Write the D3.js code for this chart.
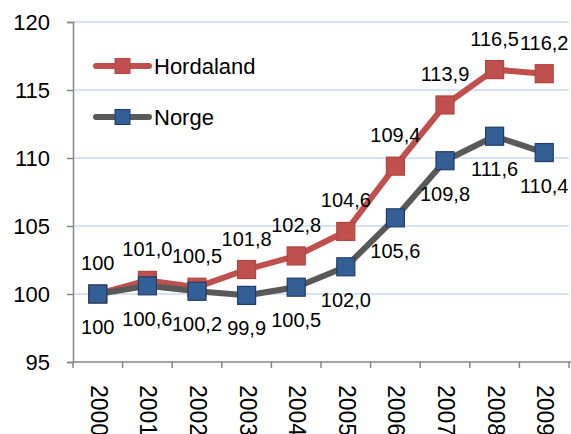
<!DOCTYPE html>
<html>
<head>
<meta charset="utf-8">
<script src="https://cdn.jsdelivr.net/npm/d3@7"></script>
<style>
  html, body { margin: 0; padding: 0; background: #fff; }
  svg { display: block; font-family: "Liberation Sans", Arial, sans-serif; }
</style>
</head>
<body>
<script>
  var years = ['2000', '2001', '2002', '2003', '2004', '2005', '2006', '2007', '2008', '2009'];
  var hordaland = [100, 101.0, 100.5, 101.8, 102.8, 104.6, 109.4, 113.9, 116.5, 116.2];
  var norge = [100, 100.6, 100.2, 99.9, 100.5, 102.0, 105.6, 109.8, 111.6, 110.4];
  var yTicks = [95, 100, 105, 110, 115, 120];

  var W = 571, H = 434;
  var margin = {top: 22, right: 2, bottom: 72, left: 73};

  var svg = d3.select('body').append('svg')
    .attr('width', W)
    .attr('height', H);

  var xScale = d3.scaleBand().domain(years).range([margin.left, W - margin.right]);
  var yScale = d3.scaleLinear().domain([95, 120]).range([H - margin.bottom, margin.top]);

  // format like "101,0" and plain "100" for the first value
  function fmt(v, i) {
    if (i === 0) return String(v);
    return v.toFixed(1).replace('.', ',');
  }

  // gridlines
  svg.append('g')
    .selectAll('line')
    .data(yTicks.slice(1))
    .enter().append('line')
    .attr('x1', margin.left)
    .attr('x2', W - margin.right)
    .attr('y1', d => yScale(d))
    .attr('y2', d => yScale(d))
    .attr('stroke', '#c6d9f1')
    .attr('stroke-width', 1.5);

  // y axis
  var yAxis = svg.append('g')
    .attr('transform', 'translate(' + margin.left + ',0)')
    .call(d3.axisLeft(yScale).tickValues(yTicks).tickSize(6).tickPadding(17));
  yAxis.select('.domain').attr('stroke', '#868686').attr('stroke-width', 1.5);
  yAxis.selectAll('.tick line').attr('stroke', '#868686').attr('stroke-width', 1.5);
  yAxis.selectAll('text').attr('font-size', 22).attr('fill', '#000')
    .style('font-family', '"Liberation Sans", Arial, sans-serif');

  // x axis
  var xAxisG = svg.append('g')
    .attr('transform', 'translate(0,' + yScale(95) + ')');
  xAxisG.append('line')
    .attr('x1', margin.left).attr('x2', W)
    .attr('stroke', '#868686').attr('stroke-width', 1.5);
  xAxisG.selectAll('.xt')
    .data(years.concat(['end']))
    .enter().append('line')
    .attr('class', 'xt')
    .attr('x1', (d, i) => margin.left + i * xScale.step())
    .attr('x2', (d, i) => margin.left + i * xScale.step())
    .attr('y1', 0).attr('y2', 6)
    .attr('stroke', '#868686').attr('stroke-width', 1.5);
  xAxisG.selectAll('.xl')
    .data(years)
    .enter().append('text')
    .attr('class', 'xl')
    .attr('transform', d => 'translate(' + (xScale(d) + xScale.bandwidth() / 2 + 1) + ',23) rotate(90)')
    .attr('dominant-baseline', 'central')
    .attr('font-size', 23)
    .text(d => d);

  var cx = (d, i) => xScale(years[i]) + xScale.bandwidth() / 2;

  function drawSeries(values, lineColor, fill, stroke) {
    var line = d3.line()
      .x((d, i) => cx(d, i))
      .y(d => yScale(d));
    svg.append('path')
      .datum(values)
      .attr('fill', 'none')
      .attr('stroke', lineColor)
      .attr('stroke-width', 6)
      .attr('stroke-linejoin', 'round')
      .attr('d', line);
    svg.append('g')
      .selectAll('rect')
      .data(values)
      .enter().append('rect')
      .attr('x', (d, i) => cx(d, i) - 9)
      .attr('y', d => yScale(d) - 9)
      .attr('width', 18)
      .attr('height', 18)
      .attr('fill', fill)
      .attr('stroke', stroke)
      .attr('stroke-width', 1.2);
  }

  drawSeries(hordaland, '#c0504d', '#c0504d', '#b5443f');
  drawSeries(norge, '#595959', '#335f96', '#1f3d66');

  // data labels
  function drawLabels(values, dy) {
    svg.append('g')
      .selectAll('text')
      .data(values)
      .enter().append('text')
      .attr('x', (d, i) => cx(d, i))
      .attr('y', d => yScale(d) + dy)
      .attr('text-anchor', 'middle')
      .attr('dominant-baseline', 'central')
      .attr('font-size', 20)
      .attr('fill', '#000')
      .text((d, i) => fmt(d, i));
  }
  drawLabels(hordaland, -31);
  drawLabels(norge, 33);

  // legend
  var legend = [
    {name: 'Hordaland', line: '#c0504d', fill: '#c0504d', stroke: '#b5443f', y: 66},
    {name: 'Norge', line: '#595959', fill: '#335f96', stroke: '#1f3d66', y: 117}
  ];
  var lg = svg.append('g').selectAll('g').data(legend).enter().append('g');
  lg.append('line')
    .attr('x1', 96).attr('x2', 149)
    .attr('y1', d => d.y).attr('y2', d => d.y)
    .attr('stroke', d => d.line)
    .attr('stroke-width', 6)
    .attr('stroke-linecap', 'round');
  lg.append('rect')
    .attr('x', 115).attr('y', d => d.y - 7.5)
    .attr('width', 15).attr('height', 15)
    .attr('fill', d => d.fill)
    .attr('stroke', d => d.stroke)
    .attr('stroke-width', 1);
  lg.append('text')
    .attr('x', 154).attr('y', d => d.y)
    .attr('dominant-baseline', 'central')
    .attr('font-size', 22)
    .text(d => d.name);
</script>
</body>
</html>
